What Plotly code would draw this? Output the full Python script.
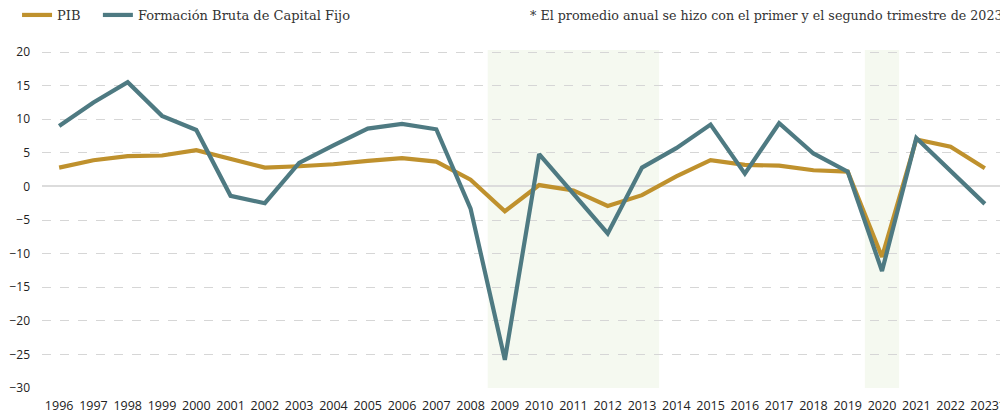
import plotly.graph_objects as go

years = [str(y) for y in range(1996, 2023)] + ["\u00a0\u00a02023*"]
pib = [2.8, 3.9, 4.5, 4.6, 5.4, 4.1, 2.8, 3.0, 3.3, 3.8, 4.2, 3.7, 1.0, -3.7, 0.2, -0.6,
       -2.9, -1.3, 1.5, 3.9, 3.2, 3.1, 2.4, 2.2, -10.5, 7.0, 5.9, 2.7]
fbkf = [9.0, 12.5, 15.5, 10.5, 8.4, -1.4, -2.5, 3.5, 6.1, 8.6, 9.3, 8.5, -3.3, -25.8, 4.8, -1.1,
        -7.0, 2.8, 5.7, 9.2, 1.9, 9.4, 4.9, 2.2, -12.6, 7.2, 2.2, -2.6]
y_ticks = [20, 15, 10, 5, 0, -5, -10, -15, -20, -25, -30]
shade_periods = [(12.5, 17.5), (23.5, 24.5)]

GOLD = "#bf912d"
TEAL = "#4e7a82"
SERIF = "DejaVu Serif"
SANS = "Open Sans"

fig = go.Figure()
fig.add_trace(go.Scatter(x=years, y=pib, name="PIB\u00a0\u00a0\u00a0", mode="lines",
                         line=dict(color=GOLD, width=4.2)))
fig.add_trace(go.Scatter(x=years, y=fbkf, name="Formación Bruta de Capital Fijo", mode="lines",
                         line=dict(color=TEAL, width=4.2)))

for x0, x1 in shade_periods:
    fig.add_shape(type="rect", xref="x", yref="y domain", x0=x0, x1=x1, y0=0, y1=1,
                  fillcolor="#f5f9f0", line=dict(width=0), layer="below")

fig.add_annotation(text="* El promedio anual se hizo con el primer y el segundo trimestre de 2023",
                   xref="paper", yref="paper", x=1, y=1, xanchor="right", yanchor="middle",
                   yshift=35, xshift=3, showarrow=False,
                   font=dict(family=SERIF, size=12.7, color="#333333"))

# page body has an 8px margin, so the figure is sized/offset to compensate
fig.update_layout(
    width=1000, height=409,
    margin=dict(l=34, r=6, t=42, b=29, autoexpand=False),
    paper_bgcolor="white", plot_bgcolor="white",
    font=dict(family=SERIF, color="#333333"),
    showlegend=True,
    legend=dict(orientation="h", x=-0.026, y=1.1036, xanchor="left", yanchor="middle",
                yref="paper", font=dict(family=SERIF, size=13, color="#333333"),
                bgcolor="rgba(0,0,0,0)", traceorder="normal", itemwidth=30),
    xaxis=dict(type="category", range=[-0.5, 27.5], showgrid=False, zeroline=False,
               showline=False, ticks="", tickfont=dict(family=SANS, size=12.5, color="#222222"),
               tickangle=0, automargin=False, ticklabelstandoff=8),
    yaxis=dict(range=[-30, 20.3], tickvals=y_ticks, showgrid=True, gridcolor="#d6d6d6",
               griddash="dash", gridwidth=1, zeroline=True, zerolinecolor="#dcdcdc",
               zerolinewidth=1.5, showline=False, ticks="", automargin=False,
               tickfont=dict(family=SANS, size=12, color="#222222"), ticklabelstandoff=11),
)

fig.write_html("out.html")
